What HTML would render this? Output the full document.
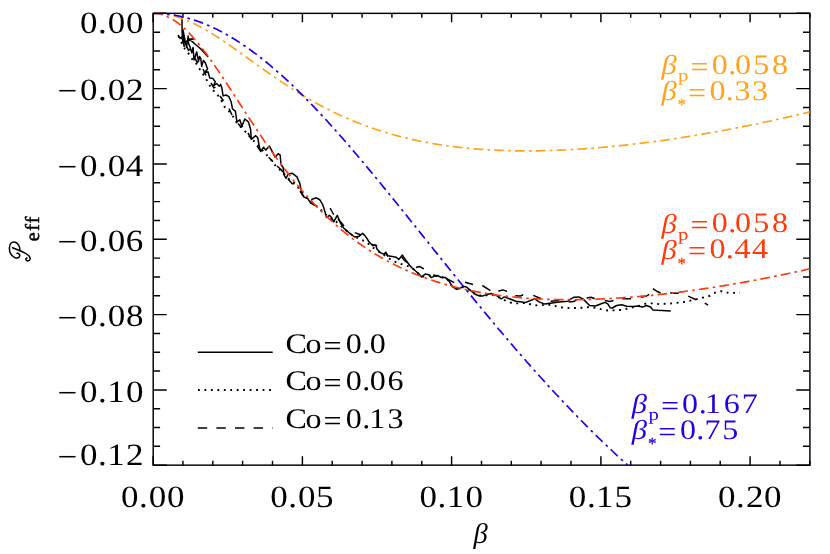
<!DOCTYPE html>
<html lang="en">
<head>
<meta charset="utf-8">
<title>P_eff versus beta</title>
<style>
html,body{margin:0;padding:0;background:#fff;}
body{width:830px;height:554px;overflow:hidden;font-family:"Liberation Serif",serif;}
svg{display:block;will-change:transform;}
text{font-family:"Liberation Serif",serif;text-rendering:geometricPrecision;}
.it{font-style:italic;}
</style>
</head>
<body>
<svg width="830" height="554" viewBox="0 0 830 554">
<rect x="0" y="0" width="830" height="554" fill="#ffffff"/>
<clipPath id="plot"><rect x="153.90" y="14.05" width="656.70" height="451.85"/></clipPath>
<g fill="none" stroke="#000" stroke-width="1.45">
<rect x="153.2" y="13.35" width="656.7" height="451.8"/>
<path d="M153.1,465.2 v-9 M153.1,13.35 v9 M182.9,465.2 v-4.5 M182.9,13.35 v4.5 M212.8,465.2 v-4.5 M212.8,13.35 v4.5 M242.6,465.2 v-4.5 M242.6,13.35 v4.5 M272.5,465.2 v-4.5 M272.5,13.35 v4.5 M302.4,465.2 v-9 M302.4,13.35 v9 M332.2,465.2 v-4.5 M332.2,13.35 v4.5 M362.1,465.2 v-4.5 M362.1,13.35 v4.5 M391.9,465.2 v-4.5 M391.9,13.35 v4.5 M421.8,465.2 v-4.5 M421.8,13.35 v4.5 M451.6,465.2 v-9 M451.6,13.35 v9 M481.5,465.2 v-4.5 M481.5,13.35 v4.5 M511.3,465.2 v-4.5 M511.3,13.35 v4.5 M541.1,465.2 v-4.5 M541.1,13.35 v4.5 M571.0,465.2 v-4.5 M571.0,13.35 v4.5 M600.9,465.2 v-9 M600.9,13.35 v9 M630.7,465.2 v-4.5 M630.7,13.35 v4.5 M660.6,465.2 v-4.5 M660.6,13.35 v4.5 M690.4,465.2 v-4.5 M690.4,13.35 v4.5 M720.2,465.2 v-4.5 M720.2,13.35 v4.5 M750.1,465.2 v-9 M750.1,13.35 v9 M780.0,465.2 v-4.5 M780.0,13.35 v4.5 M809.8,465.2 v-4.5 M809.8,13.35 v4.5 M153.2,13.3 h13.6 M809.9,13.3 h-13.6 M153.2,32.2 h6.9 M809.9,32.2 h-6.9 M153.2,51.0 h6.9 M809.9,51.0 h-6.9 M153.2,69.8 h6.9 M809.9,69.8 h-6.9 M153.2,88.6 h13.6 M809.9,88.6 h-13.6 M153.2,107.5 h6.9 M809.9,107.5 h-6.9 M153.2,126.3 h6.9 M809.9,126.3 h-6.9 M153.2,145.1 h6.9 M809.9,145.1 h-6.9 M153.2,163.9 h13.6 M809.9,163.9 h-13.6 M153.2,182.8 h6.9 M809.9,182.8 h-6.9 M153.2,201.6 h6.9 M809.9,201.6 h-6.9 M153.2,220.4 h6.9 M809.9,220.4 h-6.9 M153.2,239.2 h13.6 M809.9,239.2 h-13.6 M153.2,258.1 h6.9 M809.9,258.1 h-6.9 M153.2,276.9 h6.9 M809.9,276.9 h-6.9 M153.2,295.7 h6.9 M809.9,295.7 h-6.9 M153.2,314.6 h13.6 M809.9,314.6 h-13.6 M153.2,333.4 h6.9 M809.9,333.4 h-6.9 M153.2,352.2 h6.9 M809.9,352.2 h-6.9 M153.2,371.0 h6.9 M809.9,371.0 h-6.9 M153.2,389.9 h13.6 M809.9,389.9 h-13.6 M153.2,408.7 h6.9 M809.9,408.7 h-6.9 M153.2,427.5 h6.9 M809.9,427.5 h-6.9 M153.2,446.3 h6.9 M809.9,446.3 h-6.9 M153.2,465.2 h13.6 M809.9,465.2 h-13.6"/>
</g>
<g fill="none" stroke="#000" stroke-width="1.5" stroke-linejoin="round" stroke-linecap="butt" clip-path="url(#plot)">
<path d="M182.0,17.0 L182.1,32.8 L182.8,41.8 L184.2,46.3 L183.0,30.0 L184.6,38.2 L185.5,42.7 L186.5,47.2 L188.2,35.9 L188.4,43.0 L189.5,45.6 L191.8,52.8 L193.1,47.4 L194.0,60.0 L196.7,51.9 L198.5,61.4 L199.6,56.5 L200.8,58.7 L201.7,66.4 L203.4,60.5 L205.3,62.8 L207.6,69.1 L204.0,73.1 L208.0,71.8 L209.8,78.1 L213.0,78.6 L215.2,81.7 L213.4,86.0 L216.6,83.5 L219.3,86.2 L220.6,84.4 L221.7,87.2 L223.1,95.9 L226.0,95.0 L228.9,96.6 L231.1,101.7 L232.5,108.9 L235.4,111.1 L236.9,121.9 L239.8,119.8 L241.9,126.3 L244.8,119.0 L248.4,121.9 L250.6,129.2 L251.3,139.3 L255.7,135.7 L257.8,137.8 L259.3,146.5 L260.7,151.6 L263.6,147.2 L265.8,150.1 L269.4,146.0 L272.3,151.6 L275.2,157.3 L278.1,153.7 L280.2,155.2 L281.0,164.6 L283.1,167.5 L283.9,174.7 L286.0,178.3 L288.2,174.0 L292.5,173.3 L296.9,176.9 L299.8,183.4 L301.9,193.5 L304.1,197.1 L307.7,198.6 L310.6,202.9 L312.0,199.3 L316.4,197.8 L320.0,200.0 L322.9,205.1 L325.1,212.3 L326.5,217.5 L329.4,215.3 L331.6,217.5 L333.7,221.8 L337.3,215.3 L340.2,222.5 L343.9,228.3 L348.9,232.6 L354.7,237.0 L359.0,236.3 L362.6,233.4 L365.5,236.3 L369.2,242.0 L372.8,245.7 L375.7,244.9 L377.1,249.3 L380.7,252.9 L384.3,254.3 L385.8,252.2 L387.9,255.8 L392.3,256.5 L395.9,257.2 L398.8,259.4 L402.4,255.1 L405.3,259.4 L409.6,265.2 L411.6,267.5 L417.3,272.5 L421.7,276.9 L425.3,274.0 L428.9,274.7 L431.1,277.6 L434.7,276.1 L437.6,275.4 L441.2,277.6 L445.5,277.6 L449.2,281.2 L452.0,286.3 L456.4,289.2 L460.0,288.4 L462.9,286.3 L466.5,287.0 L470.8,290.6 L475.2,294.2 L478.8,295.7 L482.4,296.1 L486.7,294.6 L491.1,293.5 L495.4,294.9 L499.0,297.1 L501.2,299.0 L504.3,296.9 L510.1,299.0 L515.9,301.2 L525.3,302.6 L534.7,298.7 L539.0,301.9 L544.8,304.1 L552.0,302.9 L559.3,301.9 L567.9,301.2 L570.1,299.3 L573.7,297.3 L578.8,296.9 L583.1,299.0 L586.7,302.6 L589.6,305.5 L595.4,306.0 L601.2,303.8 L605.1,302.4 L608.0,304.1 L610.1,307.7 L612.3,308.0 L616.6,305.5 L621.7,304.8 L626.7,306.3 L634.0,306.6 L637.6,306.0 L642.6,307.1 L646.3,305.5 L650.6,307.0 L652.8,309.9 L657.8,310.3 L670.8,310.9"/>
<path d="M185.5,41.8 L193.2,39.1 L189.1,39.1 L192.3,41.6 L195.5,44.5 L198.6,47.0 L201.8,49.9 L205.0,53.4 L208.1,57.1"/>
<path d="M178.5,36.0 L180.0,39.0 L181.5,42.5 L183.0,46.0 L185.0,49.0 L187.5,52.3 L190.7,56.3 L193.8,62.3 L196.9,64.1 L200.1,69.8 L205.7,78.2 L208.8,83.9 L212.0,89.5 L215.1,92.0 L218.8,96.6 L222.4,102.4 L225.3,108.2 L228.9,111.1 L233.3,116.9 L236.1,121.9 L243.4,129.9 L248.4,134.2 L250.6,138.6 L256.4,142.9 L259.3,147.2 L265.1,153.0 L269.4,158.1 L273.0,161.7 L276.6,167.5 L281.7,171.1 L289.6,179.8 L294.7,183.4 L300.0,190.0 L306.0,197.0 L312.0,203.0 L318.0,207.0 L324.0,213.0 L330.0,218.5 L336.0,221.5 L342.0,227.0 L348.0,232.0 L354.0,236.5 L360.0,239.0 L366.3,242.0 L370.6,245.7 L377.0,250.5 L384.0,255.0 L392.3,260.6 L398.1,263.0 L405.3,265.2 L411.6,267.5 L417.3,272.5 L421.7,276.9 L428.9,275.5 L437.6,276.0 L445.5,278.0 L449.2,281.2 L452.0,286.3 L456.4,289.2 L462.9,287.0 L470.8,290.6 L475.2,294.2 L482.4,296.1 L491.1,294.5 L499.0,297.3 L506.5,301.2 L513.0,303.4 L519.5,303.4 L526.0,302.9 L531.8,304.8 L538.3,305.5 L544.8,304.8 L551.3,304.8 L557.8,306.7 L563.6,307.7 L570.1,308.0 L576.6,308.0 L583.1,307.7 L589.6,307.0 L596.1,308.0 L602.6,309.6 L608.4,310.6 L615.2,310.2 L621.7,309.9 L628.2,308.4 L634.0,307.0 L640.5,305.5 L646.3,303.4 L652.8,303.4 L659.3,304.1 L665.8,303.8 L672.3,303.4 L678.8,302.6 L685.3,301.9 L691.8,300.2 L697.4,299.0 L703.7,297.4 L709.5,296.0 L715.3,292.6 L721.1,291.2 L726.9,292.6 L733.4,292.9 L739.9,292.9" stroke-dasharray="1.9 4.6" stroke-width="1.9"/>
<path d="M178.0,35.0 L180.0,38.5 L181.5,37.0 L183.0,41.0 M186.5,46.0 L188.5,50.5 L190.0,49.0 M194.5,57.0 L197.0,62.5 L198.5,61.0 M203.0,69.0 L206.0,75.5 M211.0,83.0 L214.0,88.0 L215.5,87.0 M220.0,96.0 L223.5,101.0 M229.0,108.5 L232.0,115.0 M238.0,123.5 L241.0,127.0 L243.0,126.0 M248.0,133.0 L251.5,139.0 M257.0,146.0 L261.0,151.5 M268.7,157.3 L273.0,161.7 M277.0,166.0 L281.0,169.5 L283.0,172.0 M288.0,179.0 L292.0,183.5 L294.0,184.0 M300.0,191.0 L304.0,197.0 M310.0,202.5 L315.0,205.5 M330.1,208.1 L332.0,211.5 L333.7,214.6 M338.0,219.0 L342.0,223.5 L344.0,226.0 M354.7,232.6 L360.5,234.8 M371.3,244.2 L377.1,245.7 M385.0,252.2 L388.0,256.5 M401.7,257.0 L404.5,260.5 L407.7,262.9 M415.9,267.5 L419.5,266.5 L423.9,268.9 M433.0,275.0 L438.0,276.0 M446.3,278.3 L454.2,282.6 M465.0,282.2 L473.0,284.5 M482.4,285.5 L490.4,290.6 M498.3,291.3 L502.6,289.9 L507.0,291.3 M515.2,295.7 L520.2,296.1 L523.1,294.7 M533.3,295.4 L541.2,298.7 M550.6,301.2 L559.3,300.5 M568.7,301.9 L573.7,301.6 L576.6,299.8 M586.7,297.9 L591.1,297.2 L594.7,298.7 M604.8,300.5 L609.9,301.5 L613.5,300.5 M622.4,298.7 L631.1,298.7 M641.2,297.3 L646.3,296.1 L649.2,294.4 M652.8,288.6 L657.8,291.8 L660.7,293.0 M670.1,293.0 L678.8,293.3 M688.2,296.1 L696.1,299.8 M704.8,303.1 L708.1,305.1"/>
</g>
<g fill="none" stroke-width="1.7" clip-path="url(#plot)" stroke-dasharray="9.7 4.3 2.6 4.2">
<path d="M153.1,13.3 L154.7,13.4 L156.4,13.5 L158.0,13.7 L159.7,14.0 L161.3,14.4 L163.0,14.9 L164.6,15.5 L166.3,16.1 L167.9,16.9 L169.6,17.7 L171.2,18.6 L172.9,19.5 L174.5,20.6 L176.1,21.7 L177.8,22.9 L179.4,24.2 L181.1,25.6 L182.7,27.0 L184.4,28.5 L186.0,30.0 L187.7,31.6 L189.3,33.3 L191.0,35.1 L192.6,36.9 L194.2,38.7 L195.9,40.6 L197.5,42.6 L199.2,44.6 L200.8,46.7 L202.5,48.8 L204.1,50.9 L205.8,53.1 L207.4,55.3 L209.1,57.6 L210.7,59.9 L212.4,62.2 L214.0,64.6 L215.6,67.0 L217.3,69.4 L218.9,71.8 L220.6,74.2 L222.2,76.7 L223.9,79.2 L225.5,81.7 L227.2,84.2 L228.8,86.7 L230.5,89.3 L232.1,91.8 L233.7,94.3 L235.4,96.9 L237.0,99.4 L238.7,102.0 L240.3,104.5 L242.0,107.1 L243.6,109.6 L245.3,112.2 L246.9,114.7 L248.6,117.2 L250.2,119.8 L251.9,122.3 L253.5,124.8 L255.1,127.2 L256.8,129.7 L258.4,132.2 L260.1,134.6 L261.7,137.1 L263.4,139.5 L265.0,141.9 L266.7,144.3 L268.3,146.6 L270.0,149.0 L271.6,151.3 L273.2,153.6 L274.9,155.9 L276.5,158.2 L278.2,160.4 L279.8,162.6 L281.5,164.8 L283.1,167.0 L284.8,169.2 L286.4,171.3 L288.1,173.5 L289.7,175.5 L291.4,177.6 L293.0,179.7 L294.6,181.7 L296.3,183.7 L297.9,185.7 L299.6,187.6 L301.2,189.6 L302.9,191.5 L304.5,193.4 L306.2,195.2 L307.8,197.1 L309.5,198.9 L311.1,200.7 L312.7,202.4 L314.4,204.2 L316.0,205.9 L317.7,207.6 L319.3,209.3 L321.0,211.0 L322.6,212.6 L324.3,214.2 L325.9,215.8 L327.6,217.4 L329.2,218.9 L330.9,220.4 L332.5,221.9 L334.1,223.4 L335.8,224.9 L337.4,226.3 L339.1,227.7 L340.7,229.1 L342.4,230.5 L344.0,231.9 L345.7,233.2 L347.3,234.5 L349.0,235.8 L350.6,237.1 L352.2,238.3 L353.9,239.6 L355.5,240.8 L357.2,242.0 L358.8,243.2 L360.5,244.4 L362.1,245.5 L363.8,246.6 L365.4,247.7 L367.1,248.8 L368.7,249.9 L370.4,251.0 L372.0,252.0 L373.6,253.0 L375.3,254.1 L376.9,255.1 L378.6,256.0 L380.2,257.0 L381.9,257.9 L383.5,258.9 L385.2,259.8 L386.8,260.7 L388.5,261.6 L390.1,262.4 L391.8,263.3 L393.4,264.1 L395.0,265.0 L396.7,265.8 L398.3,266.6 L400.0,267.4 L401.6,268.2 L403.3,268.9 L404.9,269.7 L406.6,270.4 L408.2,271.1 L409.9,271.8 L411.5,272.5 L413.1,273.2 L414.8,273.9 L416.4,274.5 L418.1,275.2 L419.7,275.8 L421.4,276.5 L423.0,277.1 L424.7,277.7 L426.3,278.3 L428.0,278.9 L429.6,279.4 L431.3,280.0 L432.9,280.5 L434.5,281.1 L436.2,281.6 L437.8,282.1 L439.5,282.6 L441.1,283.1 L442.8,283.6 L444.4,284.1 L446.1,284.6 L447.7,285.0 L449.4,285.5 L451.0,285.9 L452.6,286.4 L454.3,286.8 L455.9,287.2 L457.6,287.6 L459.2,288.0 L460.9,288.4 L462.5,288.8 L464.2,289.2 L465.8,289.5 L467.5,289.9 L469.1,290.2 L470.8,290.6 L472.4,290.9 L474.0,291.2 L475.7,291.6 L477.3,291.9 L479.0,292.2 L480.6,292.5 L482.3,292.8 L483.9,293.0 L485.6,293.3 L487.2,293.6 L488.9,293.9 L490.5,294.1 L492.1,294.4 L493.8,294.6 L495.4,294.8 L497.1,295.1 L498.7,295.3 L500.4,295.5 L502.0,295.7 L503.7,295.9 L505.3,296.1 L507.0,296.3 L508.6,296.5 L510.3,296.7 L511.9,296.8 L513.5,297.0 L515.2,297.2 L516.8,297.3 L518.5,297.5 L520.1,297.6 L521.8,297.8 L523.4,297.9 L525.1,298.0 L526.7,298.2 L528.4,298.3 L530.0,298.4 L531.6,298.5 L533.3,298.6 L534.9,298.7 L536.6,298.8 L538.2,298.9 L539.9,299.0 L541.5,299.0 L543.2,299.1 L544.8,299.2 L546.5,299.2 L548.1,299.3 L549.8,299.4 L551.4,299.4 L553.0,299.5 L554.7,299.5 L556.3,299.5 L558.0,299.6 L559.6,299.6 L561.3,299.6 L562.9,299.6 L564.6,299.7 L566.2,299.7 L567.9,299.7 L569.5,299.7 L571.1,299.7 L572.8,299.7 L574.4,299.7 L576.1,299.7 L577.7,299.6 L579.4,299.6 L581.0,299.6 L582.7,299.6 L584.3,299.5 L586.0,299.5 L587.6,299.5 L589.3,299.4 L590.9,299.4 L592.5,299.3 L594.2,299.3 L595.8,299.2 L597.5,299.1 L599.1,299.1 L600.8,299.0 L602.4,298.9 L604.1,298.9 L605.7,298.8 L607.4,298.7 L609.0,298.6 L610.7,298.5 L612.3,298.4 L613.9,298.3 L615.6,298.2 L617.2,298.1 L618.9,298.0 L620.5,297.9 L622.2,297.8 L623.8,297.7 L625.5,297.6 L627.1,297.5 L628.8,297.3 L630.4,297.2 L632.0,297.1 L633.7,296.9 L635.3,296.8 L637.0,296.7 L638.6,296.5 L640.3,296.4 L641.9,296.2 L643.6,296.1 L645.2,295.9 L646.9,295.8 L648.5,295.6 L650.2,295.5 L651.8,295.3 L653.4,295.1 L655.1,295.0 L656.7,294.8 L658.4,294.6 L660.0,294.4 L661.7,294.3 L663.3,294.1 L665.0,293.9 L666.6,293.7 L668.3,293.5 L669.9,293.3 L671.5,293.1 L673.2,292.9 L674.8,292.7 L676.5,292.5 L678.1,292.3 L679.8,292.1 L681.4,291.9 L683.1,291.7 L684.7,291.5 L686.4,291.2 L688.0,291.0 L689.7,290.8 L691.3,290.6 L692.9,290.4 L694.6,290.1 L696.2,289.9 L697.9,289.7 L699.5,289.4 L701.2,289.2 L702.8,288.9 L704.5,288.7 L706.1,288.4 L707.8,288.2 L709.4,287.9 L711.0,287.7 L712.7,287.4 L714.3,287.2 L716.0,286.9 L717.6,286.7 L719.3,286.4 L720.9,286.1 L722.6,285.9 L724.2,285.6 L725.9,285.3 L727.5,285.0 L729.2,284.8 L730.8,284.5 L732.4,284.2 L734.1,283.9 L735.7,283.6 L737.4,283.4 L739.0,283.1 L740.7,282.8 L742.3,282.5 L744.0,282.2 L745.6,281.9 L747.3,281.6 L748.9,281.3 L750.5,281.0 L752.2,280.7 L753.8,280.4 L755.5,280.1 L757.1,279.7 L758.8,279.4 L760.4,279.1 L762.1,278.8 L763.7,278.5 L765.4,278.2 L767.0,277.8 L768.7,277.5 L770.3,277.2 L771.9,276.9 L773.6,276.5 L775.2,276.2 L776.9,275.9 L778.5,275.5 L780.2,275.2 L781.8,274.8 L783.5,274.5 L785.1,274.2 L786.8,273.8 L788.4,273.5 L790.0,273.1 L791.7,272.8 L793.3,272.4 L795.0,272.1 L796.6,271.7 L798.3,271.3 L799.9,271.0 L801.6,270.6 L803.2,270.3 L804.9,269.9 L806.5,269.5 L808.2,269.2 L809.8,268.8" stroke="#ff3b0c"/>
<path d="M153.1,13.3 L154.7,13.4 L156.4,13.4 L158.0,13.5 L159.7,13.6 L161.3,13.8 L163.0,14.0 L164.6,14.2 L166.3,14.5 L167.9,14.8 L169.6,15.1 L171.2,15.5 L172.9,15.9 L174.5,16.3 L176.1,16.8 L177.8,17.3 L179.4,17.8 L181.1,18.3 L182.7,18.9 L184.4,19.6 L186.0,20.2 L187.7,20.9 L189.3,21.6 L191.0,22.3 L192.6,23.1 L194.2,23.8 L195.9,24.6 L197.5,25.5 L199.2,26.3 L200.8,27.2 L202.5,28.1 L204.1,29.0 L205.8,30.0 L207.4,30.9 L209.1,31.9 L210.7,32.9 L212.4,33.9 L214.0,34.9 L215.6,35.9 L217.3,37.0 L218.9,38.1 L220.6,39.1 L222.2,40.2 L223.9,41.3 L225.5,42.5 L227.2,43.6 L228.8,44.7 L230.5,45.9 L232.1,47.0 L233.7,48.2 L235.4,49.3 L237.0,50.5 L238.7,51.6 L240.3,52.8 L242.0,54.0 L243.6,55.2 L245.3,56.4 L246.9,57.5 L248.6,58.7 L250.2,59.9 L251.9,61.1 L253.5,62.3 L255.1,63.5 L256.8,64.6 L258.4,65.8 L260.1,67.0 L261.7,68.2 L263.4,69.3 L265.0,70.5 L266.7,71.7 L268.3,72.8 L270.0,74.0 L271.6,75.1 L273.2,76.3 L274.9,77.4 L276.5,78.5 L278.2,79.6 L279.8,80.7 L281.5,81.9 L283.1,82.9 L284.8,84.0 L286.4,85.1 L288.1,86.2 L289.7,87.3 L291.4,88.3 L293.0,89.4 L294.6,90.4 L296.3,91.4 L297.9,92.5 L299.6,93.5 L301.2,94.5 L302.9,95.5 L304.5,96.4 L306.2,97.4 L307.8,98.4 L309.5,99.3 L311.1,100.3 L312.7,101.2 L314.4,102.1 L316.0,103.0 L317.7,103.9 L319.3,104.8 L321.0,105.7 L322.6,106.6 L324.3,107.5 L325.9,108.3 L327.6,109.1 L329.2,110.0 L330.9,110.8 L332.5,111.6 L334.1,112.4 L335.8,113.2 L337.4,114.0 L339.1,114.7 L340.7,115.5 L342.4,116.3 L344.0,117.0 L345.7,117.7 L347.3,118.4 L349.0,119.1 L350.6,119.8 L352.2,120.5 L353.9,121.2 L355.5,121.9 L357.2,122.5 L358.8,123.2 L360.5,123.8 L362.1,124.5 L363.8,125.1 L365.4,125.7 L367.1,126.3 L368.7,126.9 L370.4,127.5 L372.0,128.0 L373.6,128.6 L375.3,129.2 L376.9,129.7 L378.6,130.3 L380.2,130.8 L381.9,131.3 L383.5,131.8 L385.2,132.3 L386.8,132.8 L388.5,133.3 L390.1,133.8 L391.8,134.3 L393.4,134.7 L395.0,135.2 L396.7,135.6 L398.3,136.1 L400.0,136.5 L401.6,136.9 L403.3,137.3 L404.9,137.7 L406.6,138.1 L408.2,138.5 L409.9,138.9 L411.5,139.3 L413.1,139.6 L414.8,140.0 L416.4,140.4 L418.1,140.7 L419.7,141.1 L421.4,141.4 L423.0,141.7 L424.7,142.0 L426.3,142.3 L428.0,142.7 L429.6,143.0 L431.3,143.2 L432.9,143.5 L434.5,143.8 L436.2,144.1 L437.8,144.4 L439.5,144.6 L441.1,144.9 L442.8,145.1 L444.4,145.4 L446.1,145.6 L447.7,145.8 L449.4,146.1 L451.0,146.3 L452.6,146.5 L454.3,146.7 L455.9,146.9 L457.6,147.1 L459.2,147.3 L460.9,147.5 L462.5,147.6 L464.2,147.8 L465.8,148.0 L467.5,148.1 L469.1,148.3 L470.8,148.5 L472.4,148.6 L474.0,148.8 L475.7,148.9 L477.3,149.0 L479.0,149.1 L480.6,149.3 L482.3,149.4 L483.9,149.5 L485.6,149.6 L487.2,149.7 L488.9,149.8 L490.5,149.9 L492.1,150.0 L493.8,150.1 L495.4,150.2 L497.1,150.2 L498.7,150.3 L500.4,150.4 L502.0,150.4 L503.7,150.5 L505.3,150.6 L507.0,150.6 L508.6,150.7 L510.3,150.7 L511.9,150.7 L513.5,150.8 L515.2,150.8 L516.8,150.8 L518.5,150.8 L520.1,150.9 L521.8,150.9 L523.4,150.9 L525.1,150.9 L526.7,150.9 L528.4,150.9 L530.0,150.9 L531.6,150.9 L533.3,150.9 L534.9,150.8 L536.6,150.8 L538.2,150.8 L539.9,150.8 L541.5,150.7 L543.2,150.7 L544.8,150.7 L546.5,150.6 L548.1,150.6 L549.8,150.5 L551.4,150.5 L553.0,150.4 L554.7,150.4 L556.3,150.3 L558.0,150.2 L559.6,150.2 L561.3,150.1 L562.9,150.0 L564.6,150.0 L566.2,149.9 L567.9,149.8 L569.5,149.7 L571.1,149.6 L572.8,149.5 L574.4,149.4 L576.1,149.3 L577.7,149.2 L579.4,149.1 L581.0,149.0 L582.7,148.9 L584.3,148.8 L586.0,148.7 L587.6,148.6 L589.3,148.4 L590.9,148.3 L592.5,148.2 L594.2,148.1 L595.8,147.9 L597.5,147.8 L599.1,147.6 L600.8,147.5 L602.4,147.4 L604.1,147.2 L605.7,147.1 L607.4,146.9 L609.0,146.8 L610.7,146.6 L612.3,146.4 L613.9,146.3 L615.6,146.1 L617.2,146.0 L618.9,145.8 L620.5,145.6 L622.2,145.4 L623.8,145.3 L625.5,145.1 L627.1,144.9 L628.8,144.7 L630.4,144.5 L632.0,144.3 L633.7,144.1 L635.3,143.9 L637.0,143.8 L638.6,143.6 L640.3,143.4 L641.9,143.1 L643.6,142.9 L645.2,142.7 L646.9,142.5 L648.5,142.3 L650.2,142.1 L651.8,141.9 L653.4,141.7 L655.1,141.4 L656.7,141.2 L658.4,141.0 L660.0,140.8 L661.7,140.5 L663.3,140.3 L665.0,140.1 L666.6,139.8 L668.3,139.6 L669.9,139.3 L671.5,139.1 L673.2,138.9 L674.8,138.6 L676.5,138.4 L678.1,138.1 L679.8,137.9 L681.4,137.6 L683.1,137.3 L684.7,137.1 L686.4,136.8 L688.0,136.6 L689.7,136.3 L691.3,136.0 L692.9,135.8 L694.6,135.5 L696.2,135.2 L697.9,134.9 L699.5,134.7 L701.2,134.4 L702.8,134.1 L704.5,133.8 L706.1,133.5 L707.8,133.2 L709.4,132.9 L711.0,132.7 L712.7,132.4 L714.3,132.1 L716.0,131.8 L717.6,131.5 L719.3,131.2 L720.9,130.9 L722.6,130.6 L724.2,130.3 L725.9,130.0 L727.5,129.6 L729.2,129.3 L730.8,129.0 L732.4,128.7 L734.1,128.4 L735.7,128.1 L737.4,127.7 L739.0,127.4 L740.7,127.1 L742.3,126.8 L744.0,126.4 L745.6,126.1 L747.3,125.8 L748.9,125.5 L750.5,125.1 L752.2,124.8 L753.8,124.4 L755.5,124.1 L757.1,123.8 L758.8,123.4 L760.4,123.1 L762.1,122.7 L763.7,122.4 L765.4,122.0 L767.0,121.7 L768.7,121.3 L770.3,121.0 L771.9,120.6 L773.6,120.2 L775.2,119.9 L776.9,119.5 L778.5,119.2 L780.2,118.8 L781.8,118.4 L783.5,118.1 L785.1,117.7 L786.8,117.3 L788.4,116.9 L790.0,116.6 L791.7,116.2 L793.3,115.8 L795.0,115.4 L796.6,115.1 L798.3,114.7 L799.9,114.3 L801.6,113.9 L803.2,113.5 L804.9,113.1 L806.5,112.7 L808.2,112.3 L809.8,111.9" stroke="#ffa31c"/>
<path d="M153.1,13.3 L154.7,13.4 L156.4,13.4 L158.0,13.4 L159.7,13.5 L161.3,13.6 L163.0,13.7 L164.6,13.9 L166.3,14.0 L167.9,14.2 L169.6,14.4 L171.2,14.7 L172.9,14.9 L174.5,15.2 L176.1,15.5 L177.8,15.8 L179.4,16.1 L181.1,16.5 L182.7,16.9 L184.4,17.3 L186.0,17.7 L187.7,18.1 L189.3,18.6 L191.0,19.1 L192.6,19.6 L194.2,20.1 L195.9,20.6 L197.5,21.2 L199.2,21.8 L200.8,22.4 L202.5,23.0 L204.1,23.7 L205.8,24.4 L207.4,25.1 L209.1,25.8 L210.7,26.5 L212.4,27.2 L214.0,28.0 L215.6,28.8 L217.3,29.6 L218.9,30.4 L220.6,31.3 L222.2,32.2 L223.9,33.0 L225.5,34.0 L227.2,34.9 L228.8,35.8 L230.5,36.8 L232.1,37.8 L233.7,38.8 L235.4,39.8 L237.0,40.8 L238.7,41.9 L240.3,43.0 L242.0,44.0 L243.6,45.2 L245.3,46.3 L246.9,47.4 L248.6,48.6 L250.2,49.8 L251.9,51.0 L253.5,52.2 L255.1,53.4 L256.8,54.6 L258.4,55.9 L260.1,57.2 L261.7,58.5 L263.4,59.8 L265.0,61.1 L266.7,62.5 L268.3,63.8 L270.0,65.2 L271.6,66.6 L273.2,68.0 L274.9,69.4 L276.5,70.8 L278.2,72.3 L279.8,73.7 L281.5,75.2 L283.1,76.7 L284.8,78.2 L286.4,79.7 L288.1,81.2 L289.7,82.8 L291.4,84.3 L293.0,85.9 L294.6,87.5 L296.3,89.1 L297.9,90.7 L299.6,92.3 L301.2,93.9 L302.9,95.6 L304.5,97.2 L306.2,98.9 L307.8,100.6 L309.5,102.3 L311.1,104.0 L312.7,105.7 L314.4,107.4 L316.0,109.1 L317.7,110.9 L319.3,112.6 L321.0,114.4 L322.6,116.2 L324.3,118.0 L325.9,119.7 L327.6,121.5 L329.2,123.4 L330.9,125.2 L332.5,127.0 L334.1,128.8 L335.8,130.7 L337.4,132.5 L339.1,134.4 L340.7,136.3 L342.4,138.1 L344.0,140.0 L345.7,141.9 L347.3,143.8 L349.0,145.7 L350.6,147.6 L352.2,149.5 L353.9,151.5 L355.5,153.4 L357.2,155.3 L358.8,157.3 L360.5,159.2 L362.1,161.2 L363.8,163.2 L365.4,165.1 L367.1,167.1 L368.7,169.1 L370.4,171.1 L372.0,173.0 L373.6,175.0 L375.3,177.0 L376.9,179.0 L378.6,181.0 L380.2,183.0 L381.9,185.0 L383.5,187.1 L385.2,189.1 L386.8,191.1 L388.5,193.1 L390.1,195.2 L391.8,197.2 L393.4,199.2 L395.0,201.3 L396.7,203.3 L398.3,205.3 L400.0,207.4 L401.6,209.4 L403.3,211.5 L404.9,213.5 L406.6,215.6 L408.2,217.6 L409.9,219.7 L411.5,221.7 L413.1,223.8 L414.8,225.8 L416.4,227.9 L418.1,229.9 L419.7,232.0 L421.4,234.1 L423.0,236.1 L424.7,238.2 L426.3,240.2 L428.0,242.3 L429.6,244.3 L431.3,246.4 L432.9,248.5 L434.5,250.5 L436.2,252.6 L437.8,254.6 L439.5,256.7 L441.1,258.7 L442.8,260.8 L444.4,262.8 L446.1,264.9 L447.7,266.9 L449.4,269.0 L451.0,271.0 L452.6,273.1 L454.3,275.1 L455.9,277.1 L457.6,279.2 L459.2,281.2 L460.9,283.3 L462.5,285.3 L464.2,287.3 L465.8,289.3 L467.5,291.4 L469.1,293.4 L470.8,295.4 L472.4,297.4 L474.0,299.4 L475.7,301.4 L477.3,303.4 L479.0,305.4 L480.6,307.4 L482.3,309.4 L483.9,311.4 L485.6,313.4 L487.2,315.4 L488.9,317.4 L490.5,319.3 L492.1,321.3 L493.8,323.3 L495.4,325.2 L497.1,327.2 L498.7,329.2 L500.4,331.1 L502.0,333.0 L503.7,335.0 L505.3,336.9 L507.0,338.9 L508.6,340.8 L510.3,342.7 L511.9,344.6 L513.5,346.5 L515.2,348.5 L516.8,350.4 L518.5,352.3 L520.1,354.2 L521.8,356.0 L523.4,357.9 L525.1,359.8 L526.7,361.7 L528.4,363.6 L530.0,365.4 L531.6,367.3 L533.3,369.1 L534.9,371.0 L536.6,372.8 L538.2,374.7 L539.9,376.5 L541.5,378.3 L543.2,380.1 L544.8,381.9 L546.5,383.8 L548.1,385.6 L549.8,387.4 L551.4,389.1 L553.0,390.9 L554.7,392.7 L556.3,394.5 L558.0,396.2 L559.6,398.0 L561.3,399.8 L562.9,401.5 L564.6,403.3 L566.2,405.0 L567.9,406.7 L569.5,408.4 L571.1,410.2 L572.8,411.9 L574.4,413.6 L576.1,415.3 L577.7,417.0 L579.4,418.7 L581.0,420.3 L582.7,422.0 L584.3,423.7 L586.0,425.3 L587.6,427.0 L589.3,428.6 L590.9,430.3 L592.5,431.9 L594.2,433.5 L595.8,435.2 L597.5,436.8 L599.1,438.4 L600.8,440.0 L602.4,441.6 L604.1,443.2 L605.7,444.7 L607.4,446.3 L609.0,447.9 L610.7,449.4 L612.3,451.0 L613.9,452.5 L615.6,454.1 L617.2,455.6 L618.9,457.1 L620.5,458.7 L622.2,460.2 L623.8,461.7 L625.5,463.2 L627.1,464.7 L628.8,466.2 L630.4,467.6" stroke="#2600e2"/>
</g>
<g fill="none" stroke="#000" stroke-width="1.5">
<path d="M197.8,352.3 H272.7"/>
<path d="M198,390 H273" stroke-dasharray="1.8 4.66" stroke-width="1.8"/>
<path d="M197.8,427.9 H272.7" stroke-dasharray="9.4 9.2"/>
</g>
<g>
<text transform="scale(1.13,1)" x="70.75 86.74 95.26 111.45" y="33.3 33.3 33.3 33.3" font-size="31.0">0.00</text>
<text transform="scale(1.13,1)" x="50.89 70.75 86.74 95.26 111.62" y="101.3 99.8 99.8 99.8 99.8" font-size="31.0">−0.02</text>
<text transform="scale(1.13,1)" x="50.89 70.75 86.74 95.26 111.39" y="177 175.5 175.5 175.5 175.5" font-size="31.0">−0.04</text>
<text transform="scale(1.13,1)" x="50.89 70.75 86.74 95.26 111.25" y="252.3 250.8 250.8 250.8 250.8" font-size="31.0">−0.06</text>
<text transform="scale(1.13,1)" x="50.89 70.75 86.74 95.26 111.45" y="327.7 326.2 326.2 326.2 326.2" font-size="31.0">−0.08</text>
<text transform="scale(1.13,1)" x="50.89 70.75 86.74 94.82 111.45" y="403 401.5 401.5 401.5 401.5" font-size="31.0">−0.10</text>
<text transform="scale(1.13,1)" x="50.89 70.75 86.74 94.82 111.62" y="466.7 465.2 465.2 465.2 465.2" font-size="31.0">−0.12</text>
<text transform="scale(1.13,1)" x="107.12 123.12 131.63 147.83" y="507.4 507.4 507.4 507.4" font-size="31.0">0.00</text>
<text transform="scale(1.13,1)" x="239.20 255.20 263.71 279.61" y="507.4 507.4 507.4 507.4" font-size="31.0">0.05</text>
<text transform="scale(1.13,1)" x="371.28 387.28 395.36 411.98" y="507.4 507.4 507.4 507.4" font-size="31.0">0.10</text>
<text transform="scale(1.13,1)" x="503.36 519.36 527.44 543.77" y="507.4 507.4 507.4 507.4" font-size="31.0">0.15</text>
<text transform="scale(1.13,1)" x="635.44 651.43 660.12 676.14" y="507.4 507.4 507.4 507.4" font-size="31.0">0.20</text>
</g>
<text x="480.5" y="542.6" font-size="28.5" text-anchor="middle" class="it">β</text>
<g role="img" aria-label="P eff">
<path transform="matrix(0,-1,-1,0,30.3,262.5)" fill="none" stroke="#000" stroke-width="1.5" stroke-linecap="round" stroke-linejoin="round" d="M14.8,17.8 C12.8,12.5 10.5,6.5 8,3 C6.5,0.8 4.2,-0.4 2.6,0.6 C1.2,1.6 1.3,3.6 2.6,4.3 C3.6,4.8 4.6,4.2 4.6,3.2 M9.2,13.2 C9.4,11.4 7.6,9.9 5.9,10.9 C4.3,11.9 4.3,14.2 5.2,15.9 C6.8,18.9 10.2,20.9 14.2,20.9 C18.2,21 20.6,18.9 20.4,16.2 C20.2,12.8 16.2,10 11.4,10.4"/>
<g transform="translate(30.6,263) rotate(-90)"><text x="21.7 32.2 39.8" y="8" font-size="20" stroke="#000" stroke-width="0.5">eff</text></g>
</g>
<text transform="scale(1.13,1)" x="252.59 270.33 286.40 305.91 320.61 327.24" y="353 353 354.5 353 353 353" font-size="28.4">Co=0.0</text>
<text transform="scale(1.13,1)" x="252.59 270.33 286.40 305.91 320.61 327.24 342.89" y="390.3 390.3 391.8 390.3 390.3 390.3 390.3" font-size="28.4">Co=0.06</text>
<text transform="scale(1.13,1)" x="252.59 270.33 286.40 305.91 320.61 326.84 342.95" y="428.2 428.2 429.7 428.2 428.2 428.2 428.2" font-size="28.4">Co=0.13</text>
<g fill="#ffa31c">
<text transform="scale(1.12,1)" x="590.53" y="74.2" font-size="27.3" class="it">β</text><text transform="scale(1.2,1)" x="565.06" y="81.4" font-size="17.3">p</text>
<text transform="scale(1.13,1)" x="611.14 629.85 644.50 650.47 666.61 683.08" y="75.5 74 74 74 74 74" font-size="28.4" fill="#ffa31c">=0.058</text>
<text transform="scale(1.12,1)" x="590.53" y="100.2" font-size="27.3" class="it">β</text><text x="677.50" y="110.2" font-size="16.9" stroke="#ffa31c" stroke-width="0.3">*</text>
<text transform="scale(1.13,1)" x="608.84 627.99 642.29 649.94 665.43" y="101.5 100 100 100 100" font-size="28.4" fill="#ffa31c">=0.33</text>
</g>
<g fill="#ff3b0c">
<text transform="scale(1.12,1)" x="590.53" y="232.6" font-size="27.3" class="it">β</text><text transform="scale(1.2,1)" x="565.06" y="239.8" font-size="17.3">p</text>
<text transform="scale(1.13,1)" x="611.14 629.85 644.50 650.47 666.61 683.08" y="233.9 232.4 232.4 232.4 232.4 232.4" font-size="28.4" fill="#ff3b0c">=0.058</text>
<text transform="scale(1.12,1)" x="590.53" y="258.6" font-size="27.3" class="it">β</text><text x="677.50" y="268.6" font-size="16.9" stroke="#ff3b0c" stroke-width="0.3">*</text>
<text transform="scale(1.13,1)" x="608.84 627.99 642.29 650.01 665.50" y="259.9 258.4 258.4 258.4 258.4" font-size="28.4" fill="#ff3b0c">=0.44</text>
</g>
<g fill="#2600e2">
<text transform="scale(1.12,1)" x="564.10" y="413.2" font-size="27.3" class="it">β</text><text transform="scale(1.2,1)" x="540.39" y="420.4" font-size="17.3">p</text>
<text transform="scale(1.13,1)" x="584.94 603.65 618.31 623.87 640.50 656.36" y="414.5 413 413 413 413 413" font-size="28.4" fill="#2600e2">=0.167</text>
<text transform="scale(1.12,1)" x="564.10" y="439.2" font-size="27.3" class="it">β</text><text x="647.90" y="449.2" font-size="16.9" stroke="#2600e2" stroke-width="0.3">*</text>
<text transform="scale(1.13,1)" x="582.64 601.79 616.10 623.35 639.09" y="440.5 439 439 439 439" font-size="28.4" fill="#2600e2">=0.75</text>
</g>
</svg>
</body>
</html>
